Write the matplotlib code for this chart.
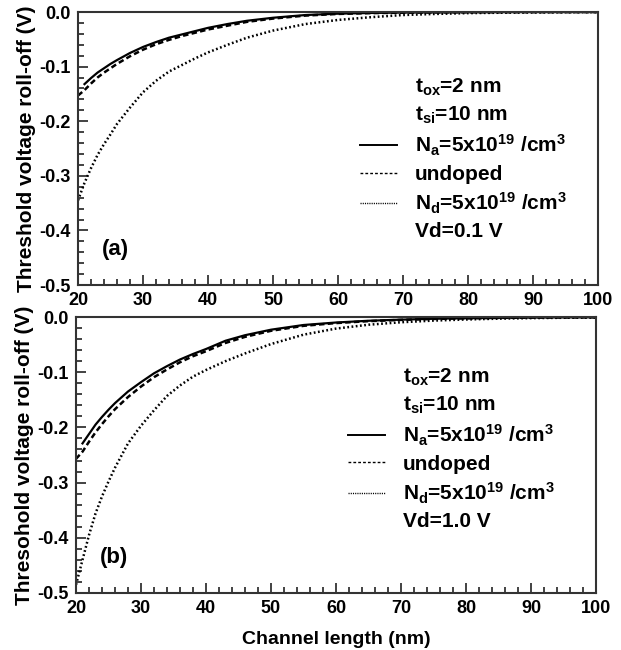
import matplotlib
matplotlib.use("Agg")
import matplotlib.pyplot as plt
from matplotlib.lines import Line2D
from matplotlib.ticker import MultipleLocator

plt.rcParams['font.family'] = ['Liberation Sans', 'DejaVu Sans']
plt.rcParams['font.weight'] = 'bold'
plt.rcParams['mathtext.default'] = 'regular'

# channel length (nm)
x_full = [20, 21, 22, 23, 24, 25, 26, 28, 30, 32, 34, 36, 38, 40, 43, 46,
          50, 55, 60, 65, 70, 75, 80, 85, 90, 95, 100]
x_na = x_full[1:]

# (a) Vd = 0.1 V
a_na = [-0.132, -0.121, -0.111, -0.103, -0.095, -0.088, -0.075, -0.064, -0.055,
        -0.047, -0.041, -0.035, -0.029, -0.022, -0.016, -0.0105, -0.0055, -0.003,
        -0.0017, -0.001, -0.0006, -0.0004, -0.0002, -0.0001, -0.0001, 0.0]
a_undoped = [-0.153, -0.143, -0.131, -0.120, -0.111, -0.103, -0.095, -0.081, -0.069,
             -0.059, -0.051, -0.044, -0.038, -0.032, -0.025, -0.018, -0.012, -0.0065,
             -0.0035, -0.002, -0.0012, -0.0007, -0.0004, -0.0003, -0.0002, -0.0001, -0.0001]
a_nd = [-0.345, -0.313, -0.286, -0.262, -0.242, -0.224, -0.205, -0.175, -0.147,
        -0.126, -0.109, -0.097, -0.085, -0.074, -0.060, -0.047, -0.034, -0.022,
        -0.0145, -0.0095, -0.0055, -0.0035, -0.002, -0.0013, -0.0008, -0.0005, -0.0003]

# (b) Vd = 1.0 V
b_na = [-0.229, -0.212, -0.195, -0.181, -0.168, -0.156, -0.135, -0.118, -0.102,
        -0.089, -0.077, -0.067, -0.058, -0.043, -0.033, -0.023, -0.0145, -0.010,
        -0.0068, -0.0048, -0.0032, -0.0022, -0.0015, -0.001, -0.0007, -0.0005]
b_undoped = [-0.257, -0.244, -0.226, -0.209, -0.194, -0.180, -0.167, -0.145, -0.126,
             -0.109, -0.095, -0.082, -0.071, -0.062, -0.047, -0.036, -0.025, -0.016,
             -0.011, -0.0075, -0.0052, -0.0035, -0.0024, -0.0016, -0.0011, -0.0008, -0.0005]
b_nd = [-0.485, -0.440, -0.395, -0.356, -0.325, -0.298, -0.273, -0.229, -0.197,
        -0.169, -0.143, -0.124, -0.108, -0.096, -0.080, -0.066, -0.049, -0.032,
        -0.021, -0.014, -0.0095, -0.0065, -0.0045, -0.003, -0.002, -0.0014, -0.001]

xticks = [20, 30, 40, 50, 60, 70, 80, 90, 100]
yticks = [0.0, -0.1, -0.2, -0.3, -0.4, -0.5]

solid = '-'
dashed = (0, (2.2, 1.3))
dotted = (0, (0.7, 1.0))

fig = plt.figure(figsize=(6.21, 6.5), dpi=100)
ax1 = fig.add_axes([0.1256, 0.5615, 0.8374, 0.42])
ax2 = fig.add_axes([0.1224, 0.0877, 0.8373, 0.4246])

panels = [
    (ax1, a_na, a_undoped, a_nd, '(a)', 'Vd=0.1 V',
     'Threshold voltage roll-off (V)', (0.542, 0.762)),
    (ax2, b_na, b_undoped, b_nd, '(b)', 'Vd=1.0 V',
     'Thresohold voltage roll-off (V)', (0.523, 0.819)),
]

for ax, na, und, nd, tag, vd, ylab, anchor in panels:
    ax.plot(x_na, na, color='black', lw=1.6, ls=solid)
    ax.plot(x_full, und, color='black', lw=1.8, ls=dashed)
    ax.plot(x_full, nd, color='black', lw=1.8, ls=dotted)

    ax.set_xlim(20, 100)
    ax.set_ylim(-0.5, 0.0)
    ax.set_xticks(xticks)
    ax.set_yticks(yticks)
    ax.set_yticklabels([f'{v:.1f}' for v in yticks])
    ax.xaxis.set_minor_locator(MultipleLocator(2))
    ax.yaxis.set_minor_locator(MultipleLocator(0.02))
    ax.tick_params(which='both', direction='in', top=False, right=False,
                   labelsize=13, width=1.2, color='#222222', pad=5)
    ax.tick_params(which='major', length=7)
    ax.tick_params(which='minor', length=4)
    for sp in ax.spines.values():
        sp.set_linewidth(1.5)
        sp.set_color('#333333')
    for lab in ax.get_xticklabels() + ax.get_yticklabels():
        lab.set_fontweight('bold')

    ax.set_ylabel(ylab, fontsize=15, fontweight='bold', labelpad=3)
    ax.text(0.045, 0.13, tag, transform=ax.transAxes, fontsize=16,
            fontweight='bold', ha='left', va='center')

    blank = Line2D([], [], color='none')
    handles = [blank, blank,
               Line2D([], [], color='black', lw=1.4, ls=solid),
               Line2D([], [], color='black', lw=1.0, ls=(0, (2, 1.5))),
               Line2D([], [], color='black', lw=1.0, ls=(0, (0.8, 0.8))),
               blank]
    labels = ['t$_{ox}$=2 nm', 't$_{si}$=10 nm',
              'N$_{a}$=5x10$^{19}$ /cm$^{3}$', 'undoped',
              'N$_{d}$=5x10$^{19}$ /cm$^{3}$', vd]
    ax.legend(handles, labels, loc='upper left', bbox_to_anchor=anchor,
              frameon=False, handlelength=1.8, handletextpad=0.85,
              labelspacing=0.32, borderaxespad=0, borderpad=0,
              prop={'weight': 'bold', 'size': 15})

ax1.set_xticklabels([str(v) for v in xticks])
ax2.set_xlabel('Channel length (nm)', fontsize=14, fontweight='bold', labelpad=10)

fig.savefig('out.png', dpi=100)
